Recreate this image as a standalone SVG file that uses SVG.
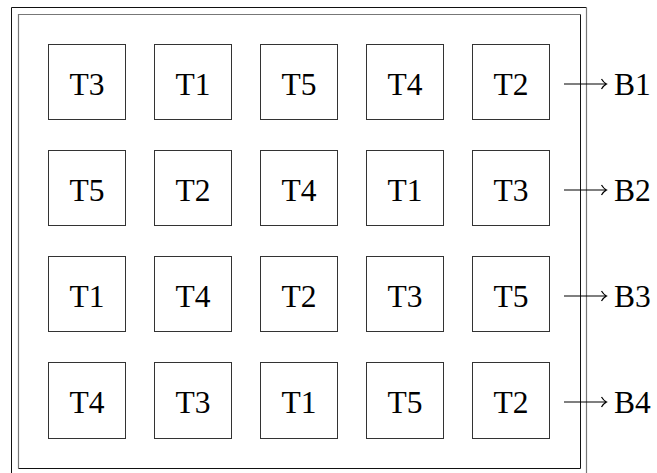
<svg xmlns="http://www.w3.org/2000/svg" width="657" height="473" viewBox="0 0 657 473">
<style>
.box{fill:#fff;stroke:#333;stroke-width:1}
.t{font-family:"Liberation Serif",serif;font-size:31.5px;fill:#000;text-anchor:middle}
.b{font-family:"Liberation Serif",serif;font-size:31.5px;fill:#000}
.dk{stroke:#111;stroke-width:1;fill:none}
.gr{stroke:#777;stroke-width:1.2;fill:none}
.ar{stroke:#000;stroke-width:1.2;fill:none}
</style>
<rect width="657" height="473" fill="#fff"/>
<g id="frame">
<path class="dk" d="M11.5,480 V7.5 H586.5"/>
<path class="gr" d="M586.5,7.5 V480"/>
<path class="gr" d="M18.5,468.5 V14.5 H580.5"/>
<path class="dk" d="M580.5,14.5 V468.5 H18.5"/>
</g>
<g id="r1c1"><rect class="box" x="48.5" y="44.5" width="77" height="75"/><text class="t" x="87" y="94.7">T3</text></g>
<g id="r1c2"><rect class="box" x="154.5" y="44.5" width="77" height="75"/><text class="t" x="193" y="94.7">T1</text></g>
<g id="r1c3"><rect class="box" x="260.5" y="44.5" width="77" height="75"/><text class="t" x="299" y="94.7">T5</text></g>
<g id="r1c4"><rect class="box" x="366.5" y="44.5" width="77" height="75"/><text class="t" x="405" y="94.7">T4</text></g>
<g id="r1c5"><rect class="box" x="472.5" y="44.5" width="77" height="75"/><text class="t" x="511" y="94.7">T2</text></g>
<g id="r2c1"><rect class="box" x="48.5" y="150.5" width="77" height="75"/><text class="t" x="87" y="200.7">T5</text></g>
<g id="r2c2"><rect class="box" x="154.5" y="150.5" width="77" height="75"/><text class="t" x="193" y="200.7">T2</text></g>
<g id="r2c3"><rect class="box" x="260.5" y="150.5" width="77" height="75"/><text class="t" x="299" y="200.7">T4</text></g>
<g id="r2c4"><rect class="box" x="366.5" y="150.5" width="77" height="75"/><text class="t" x="405" y="200.7">T1</text></g>
<g id="r2c5"><rect class="box" x="472.5" y="150.5" width="77" height="75"/><text class="t" x="511" y="200.7">T3</text></g>
<g id="r3c1"><rect class="box" x="48.5" y="256.5" width="77" height="75"/><text class="t" x="87" y="306.7">T1</text></g>
<g id="r3c2"><rect class="box" x="154.5" y="256.5" width="77" height="75"/><text class="t" x="193" y="306.7">T4</text></g>
<g id="r3c3"><rect class="box" x="260.5" y="256.5" width="77" height="75"/><text class="t" x="299" y="306.7">T2</text></g>
<g id="r3c4"><rect class="box" x="366.5" y="256.5" width="77" height="75"/><text class="t" x="405" y="306.7">T3</text></g>
<g id="r3c5"><rect class="box" x="472.5" y="256.5" width="77" height="75"/><text class="t" x="511" y="306.7">T5</text></g>
<g id="r4c1"><rect class="box" x="48.5" y="362.5" width="77" height="76"/><text class="t" x="87" y="412.7">T4</text></g>
<g id="r4c2"><rect class="box" x="154.5" y="362.5" width="77" height="76"/><text class="t" x="193" y="412.7">T3</text></g>
<g id="r4c3"><rect class="box" x="260.5" y="362.5" width="77" height="76"/><text class="t" x="299" y="412.7">T1</text></g>
<g id="r4c4"><rect class="box" x="366.5" y="362.5" width="77" height="76"/><text class="t" x="405" y="412.7">T5</text></g>
<g id="r4c5"><rect class="box" x="472.5" y="362.5" width="77" height="76"/><text class="t" x="511" y="412.7">T2</text></g>
<g id="connectors">
<path class="ar" d="M564,84 H606.5 M601.5,79 Q603.5,82.5 606.5,84 Q603.5,85.5 601.5,89"/>
<path class="ar" d="M564,190 H606.5 M601.5,185 Q603.5,188.5 606.5,190 Q603.5,191.5 601.5,195"/>
<path class="ar" d="M564,296 H606.5 M601.5,291 Q603.5,294.5 606.5,296 Q603.5,297.5 601.5,301"/>
<path class="ar" d="M564,402 H606.5 M601.5,397 Q603.5,400.5 606.5,402 Q603.5,403.5 601.5,407"/>
</g>
<g id="B1"><text class="b" x="614" y="94.7">B1</text></g>
<g id="B2"><text class="b" x="614" y="200.7">B2</text></g>
<g id="B3"><text class="b" x="614" y="306.7">B3</text></g>
<g id="B4"><text class="b" x="614" y="412.7">B4</text></g>
</svg>
